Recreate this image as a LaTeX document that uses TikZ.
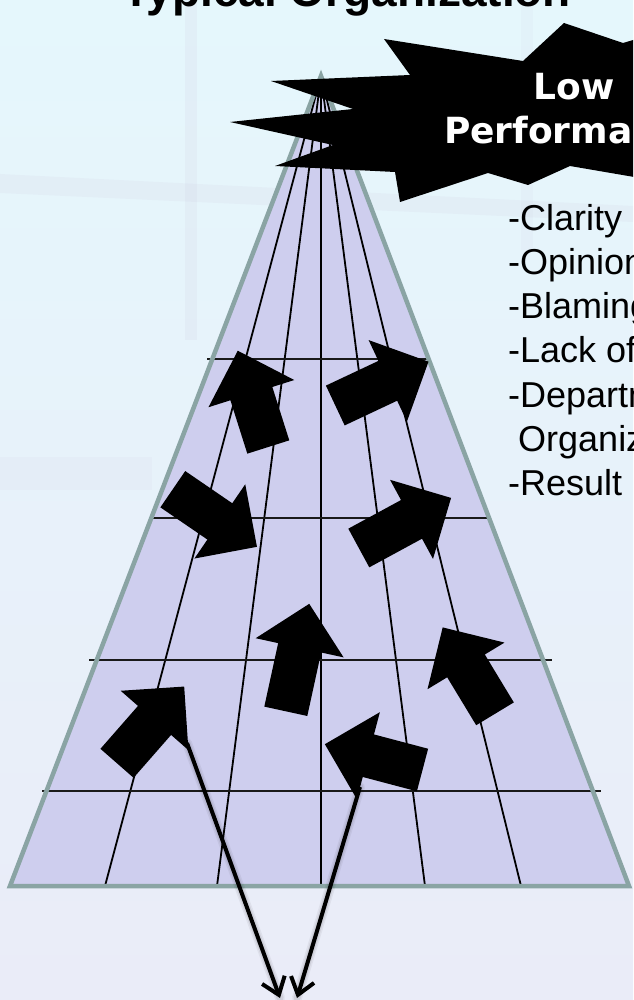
\documentclass[tikz,border=0pt]{standalone}
\usepackage{fontspec}
\setmainfont{Liberation Sans}
\newfontfamily\burstfont{DejaVu Sans}
\usetikzlibrary{arrows.meta}

\definecolor{bgtop}{RGB}{229,247,252}
\definecolor{bgbottom}{RGB}{234,236,248}
\definecolor{haze}{RGB}{212,214,232}
\definecolor{pyramidfill}{RGB}{206,206,238}
\definecolor{pyramidedge}{RGB}{138,164,164}
\definecolor{gridink}{RGB}{25,25,25}

\tikzset{
  pyramidline/.style={draw=pyramidedge, line width=4.5pt, line join=miter},
  rib/.style={draw=black, line width=1.8pt},
  tier/.style={draw=gridink, line width=2pt},
  blockarrow/.style={fill=black},
  pics/flowarrow/.style={code={
    \fill[blockarrow] (0,-22) -- ({#1-45},-22) -- ({#1-45},-45) -- (#1,0)
      -- ({#1-45},45) -- ({#1-45},22) -- (0,22) -- cycle;}},
  burst/.style={fill=black},
  bursttext/.style={text=white, font=\burstfont\bfseries\fontsize{36}{44}\selectfont,
    inner sep=0pt, anchor=base},
  titletext/.style={font=\bfseries\fontsize{46}{52}\selectfont, inner sep=0pt, anchor=base},
  listtext/.style={font=\fontsize{36}{44}\selectfont, inner sep=0pt, anchor=base west},
  outflow/.style={draw=black, line width=4pt, -{Straight Barb[length=16pt,width=24pt]}},
  outshadow/.style={draw=black, line cap=round, shift={(2.5,1.5)}},
}

\begin{document}
\begin{tikzpicture}[x=1pt, y=-1pt]
\useasboundingbox (0,0) rectangle (633,1000);
\clip (0,0) rectangle (633,1000);

% soft office background
\fill[top color=bgtop, bottom color=bgbottom] (0,0) rectangle (633,1000);
\fill[haze, opacity=0.22] (0,174) -- (633,206) -- (633,222) -- (0,193) -- cycle;
\fill[haze, opacity=0.22] (185,0) rectangle (197,340);
\fill[haze, opacity=0.15] (521,0) rectangle (533,250);
\fill[haze, opacity=0.15] (0,457) rectangle (152,490);

% title, only its lower part falls inside the page
\node[titletext] (title) at (346.5,7) {Typical Organization};

% the pyramid with its ribs and tiers
\coordinate (apex) at (321,76);
\coordinate (baseL) at (10,886);
\coordinate (baseR) at (629,886);
\fill[pyramidfill] (apex) -- (baseL) -- (baseR) -- cycle;
\foreach \bx in {105,217,321,425,521}
  \draw[rib] (apex) -- (\bx,886);
\draw[tier] (207,359) -- (430,359);
\draw[tier] (153,518) -- (488,518);
\draw[tier] (89,660) -- (552,660);
\draw[tier] (42,791) -- (601,791);
\draw[pyramidline] (apex) -- (baseL) -- (baseR) -- cycle;

% block arrows pulling in every direction
\pic[rotate=107.6] (arrA) at (268.3,447.0) {flowarrow=101};
\pic[rotate=25.2]  (arrB) at (335.3,405.5) {flowarrow=103};
\pic[rotate=-34.4] (arrC) at (172.8,489.2) {flowarrow=102};
\pic[rotate=28.5]  (arrD) at (358.8,548.0) {flowarrow=105};
\pic[rotate=77.7]  (arrE) at (285.8,711.3) {flowarrow=110};
\pic[rotate=121.2] (arrF) at (495.0,713.8) {flowarrow=101};
\pic[rotate=48.8]  (arrG) at (117.0,763.3) {flowarrow=102};
\pic[rotate=165.2] (arrH) at (422.5,770.0) {flowarrow=101};

% outflow arrows leaving the pyramid, with a soft shadow
\coordinate (gfoot) at (187,743);
\coordinate (hfoot) at (360,787);
\coordinate (gsink) at (280,998);
\coordinate (hsink) at (297,998);
\foreach \w/\o in {10/0.05, 7/0.07}{
  \draw[outshadow, line width=\w pt, opacity=\o] (gfoot) -- (gsink);
  \draw[outshadow, line width=\w pt, opacity=\o] (hfoot) -- (hsink);
}
\draw[outflow] (gfoot) -- (gsink);
\draw[outflow] (hfoot) -- (hsink);

% explosion callout
\fill[burst] (384,39) -- (523,61) -- (564,23) -- (623,43) -- (640,38) -- (700,60)
  -- (700,185) -- (640,178) -- (570,166) -- (528,185) -- (488,173) -- (400,202)
  -- (395,172) -- (275,166) -- (333,145) -- (230,122) -- (353,109) -- (271,81)
  -- (410,75) -- cycle;
\node[bursttext] (low) at (574,100) {Low};
\node[bursttext] (perf) at (574,144) {Performance};

% list of symptoms
\foreach \txt [count=\i from 0] in {-Clarity,-Opinions,-Blaming,-Lack of,-Departmental,%
  \ Organization,-Result}
  \node[listtext] (item\i) at (508,{230+44.3*\i}) {\txt};
\end{tikzpicture}
\end{document}
